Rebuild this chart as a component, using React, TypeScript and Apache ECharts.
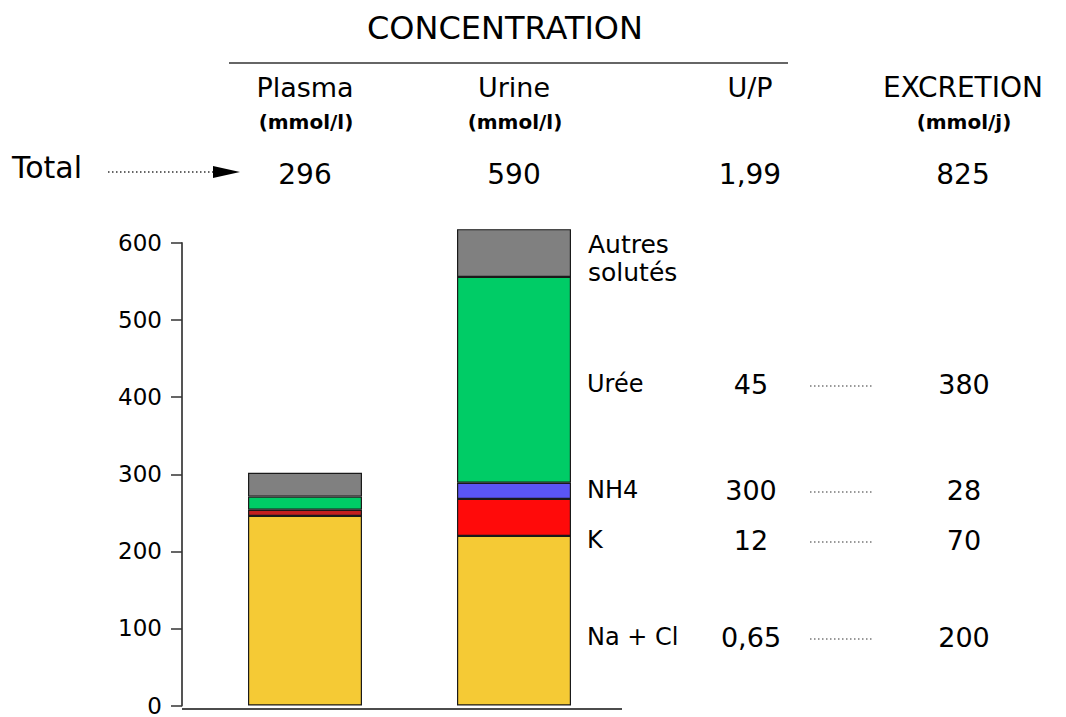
import React, { useEffect, useRef } from 'react';
import * as echarts from 'echarts';

// ---- data ----
const categories = ['Plasma', 'Urine'];
const naCl = [246, 220];
const potassium = [8, 48];
const ammonium = [0, 21];
const uree = [17, 267];
const autres = [31, 62];

const headers = ['Plasma', 'Urine', 'U/P', 'EXCRETION'];
const headerUnits = ['(mmol/l)', '(mmol/l)', '', '(mmol/j)'];
const totals = ['296', '590', '1,99', '825'];
const rowLabels = ['Urée', 'NH4', 'K', 'Na + Cl'];
const upRatios = ['45', '300', '12', '0,65'];
const excretions = ['380', '28', '70', '200'];

const FONT = "'Comic Sans MS', 'DejaVu Sans', sans-serif";

export default function App() {
  const ref = useRef<HTMLDivElement>(null);

  useEffect(() => {
    if (!ref.current) return;
    const chart = echarts.init(ref.current, undefined, { renderer: 'svg' });

    const colX = [305, 514, 750, 963];
    const rowY = [384, 490, 540, 637];

    const txt = (text: string, x: number, y: number, size: number, align: string = 'center', weight: string = 'normal') => ({
      type: 'text',
      x,
      y,
      style: {
        text,
        fill: '#000',
        font: `${weight} ${size}px ${FONT}`,
        textAlign: align,
        textVerticalAlign: 'middle',
      },
    });

    const dots = (x1: number, x2: number, y: number, color: string = '#777') => ({
      type: 'line',
      shape: { x1, y1: y, x2, y2: y },
      style: { stroke: color, lineWidth: 1.5, lineDash: [1.5, 2.5] },
    });

    const graphics: any[] = [];
    graphics.push(txt('CONCENTRATION', 505, 28, 32));
    graphics.push({
      type: 'line',
      shape: { x1: 229, y1: 63, x2: 788, y2: 63 },
      style: { stroke: '#333', lineWidth: 1.5 },
    });
    headers.forEach((h, i) => {
      graphics.push(txt(h, colX[i], 87, i === 3 ? 28 : 27));
      if (headerUnits[i]) graphics.push(txt(headerUnits[i], colX[i] + 1, 122, 20, 'center', 'bold'));
      graphics.push(txt(totals[i], colX[i], 174, 28));
    });
    graphics.push(txt('Total', 12, 167, 30, 'left'));
    graphics.push(dots(108, 213, 172, '#333'));
    graphics.push({
      type: 'polygon',
      shape: { points: [[213, 166], [240, 172], [213, 178]] },
      style: { fill: '#000' },
    });
    graphics.push(txt('Autres', 588, 244, 25, 'left'));
    graphics.push(txt('solutés', 588, 272, 25, 'left'));
    rowLabels.forEach((l, i) => {
      graphics.push(txt(l, 587, rowY[i], 24, 'left'));
      graphics.push(txt(upRatios[i], 751, rowY[i], 27));
      graphics.push(dots(810, 872, rowY[i] + 2));
      graphics.push(txt(excretions[i], 964, rowY[i], 27));
    });
    // baseline (x axis) spanning from y-axis to the end
    graphics.push({
      type: 'line',
      shape: { x1: 182, y1: 709, x2: 622, y2: 709 },
      style: { stroke: '#111', lineWidth: 1.5 },
      z: 10,
    });

    const mk = (name: string, data: any[], color: string) => ({
      name,
      type: 'bar',
      stack: 'total',
      data,
      barWidth: 114,
      clip: false,
      itemStyle: { color, borderColor: '#1a1a1a', borderWidth: 1.2 },
    });

    chart.setOption({
      animation: false,
      backgroundColor: '#fff',
      grid: { left: 200.5, right: 447.5, top: 243, bottom: 8, containLabel: false },
      xAxis: {
        type: 'category',
        data: categories,
        axisLine: { show: false },
        axisTick: { show: false },
        axisLabel: { show: false },
      },
      yAxis: {
        type: 'value',
        min: 0,
        max: 600,
        interval: 100,
        offset: 18.5,
        axisLine: { show: true, lineStyle: { color: '#555', width: 2 } },
        axisTick: { show: true, length: 11, lineStyle: { color: '#333', width: 1.5 } },
        axisLabel: { fontSize: 23, color: '#000', margin: 20, fontFamily: "'DejaVu Sans', sans-serif" },
        splitLine: { show: false },
      },
      series: [
        mk('Na + Cl', naCl, '#F5CA35'),
        mk('K', potassium.map((v, i) => (i === 0 ? { value: v, itemStyle: { color: '#C41E1E' } } : v)), '#FF0A0A'),
        mk('NH4', ammonium.map((v) => (v === 0 ? '-' : v)), '#5B55F5'),
        mk('Urée', uree, '#00CC66'),
        mk('Autres solutés', autres, '#808080'),
      ],
      graphic: graphics,
    });

    return () => chart.dispose();
  }, []);

  return (
    <div
      ref={ref}
      style={{ position: 'fixed', left: 0, top: 0, width: 1066, height: 717, background: '#fff' }}
    />
  );
}
